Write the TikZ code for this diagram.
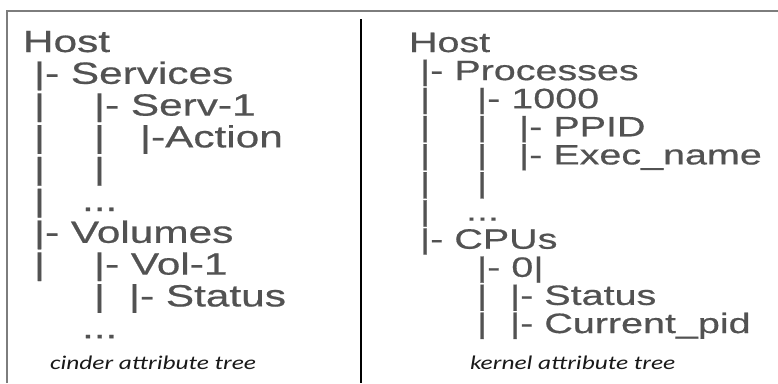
\documentclass[tikz,border=0pt]{standalone}
\usepackage{fontspec}
\newfontfamily\treeL[FakeStretch=1.38, FakeBold=0.6]{Liberation Sans}
\newfontfamily\treeR[FakeStretch=1.41, FakeBold=0.6]{Liberation Sans}
\newfontfamily\capF[FakeStretch=1.3]{Carlito}
\definecolor{treegray}{RGB}{82,82,82}
\definecolor{capblack}{RGB}{25,25,25}
\definecolor{framegray}{RGB}{125,125,125}
\tikzset{
  lt/.style={anchor=base west, inner sep=0pt, outer sep=0pt, text=treegray,
    font=\treeL\fontsize{30.7}{30.7}\selectfont},
  rt/.style={anchor=base west, inner sep=0pt, outer sep=0pt, text=treegray,
    font=\treeR\fontsize{28}{28}\selectfont},
  captext/.style={anchor=base west, inner sep=0pt, outer sep=0pt, text=capblack,
    font=\capF\itshape\fontsize{19.5}{19.5}\selectfont},
  framerule/.style={draw=framegray, line width=2pt},
  divider/.style={draw=black, line width=2.6pt}
}
\begin{document}
\begin{tikzpicture}[x=1pt, y=-1pt]
\useasboundingbox (0,0) rectangle (778,383);
\fill[white] (0,0) rectangle (778,383);

% outer frame (top and left edges) and the column divider
\coordinate (fbl) at (7,383);
\coordinate (ftl) at (7,11);
\coordinate (ftr) at (778,11);
\draw[framerule] (fbl) -- (ftl) -- (ftr);
\coordinate (dtop) at (361,19);
\coordinate (dbot) at (361,383);
\draw[divider] (dtop) -- (dbot);

% ---- cinder attribute tree ----
\node[lt] (c0)  at (23,52)    {Host};
\node[lt] (c1)  at (34,83.8)  {|- Services};
\node[lt] (c2a) at (34,115.6) {|};
\node[lt] (c2b) at (94,115.6) {|- Serv-1};
\node[lt] (c3a) at (34,147.4) {|};
\node[lt] (c3b) at (94,147.4) {|};
\node[lt] (c3c) at (140,147.4) {|-Action};
\node[lt] (c4a) at (34,179.2) {|};
\node[lt] (c4b) at (94,179.2) {|};
\node[lt] (c5a) at (34,211)   {|};
\node[lt] (c5b) at (82,211)   {...};
\node[lt] (c6)  at (34,242.8) {|- Volumes};
\node[lt] (c7a) at (34,274.6) {|};
\node[lt] (c7b) at (94,274.6) {|- Vol-1};
\node[lt] (c8a) at (94,306.4) {|};
\node[lt] (c8b) at (129,306.4) {|- Status};
\node[lt] (c9)  at (82,338.2) {...};
\node[captext] (ccap) at (50,369) {cinder attribute tree};

% ---- kernel attribute tree ----
\node[rt] (k0)   at (409,52)    {Host};
\node[rt] (k1)   at (420,80.1)  {|- Processes};
\node[rt] (k2a)  at (420,108.2) {|};
\node[rt] (k2b)  at (477,108.2) {|- 1000};
\node[rt] (k3a)  at (420,136.3) {|};
\node[rt] (k3b)  at (477,136.3) {|};
\node[rt] (k3c)  at (519,136.3) {|- PPID};
\node[rt] (k4a)  at (420,164.4) {|};
\node[rt] (k4b)  at (477,164.4) {|};
\node[rt] (k4c)  at (519,164.4) {|- Exec\_name};
\node[rt] (k5a)  at (420,192.5) {|};
\node[rt] (k5b)  at (477,192.5) {|};
\node[rt] (k6a)  at (420,220.6) {|};
\node[rt] (k6b)  at (466,220.6) {...};
\node[rt] (k7)   at (420,248.7) {|- CPUs};
\node[rt] (k8)   at (477,276.8) {|- 0|};
\node[rt] (k9a)  at (477,304.9) {|};
\node[rt] (k9b)  at (510,304.9) {|- Status};
\node[rt] (k10a) at (477,333)   {|};
\node[rt] (k10b) at (510,333)   {|- Current\_pid};
\node[captext] (kcap) at (470,369) {kernel attribute tree};
\end{tikzpicture}
\end{document}
